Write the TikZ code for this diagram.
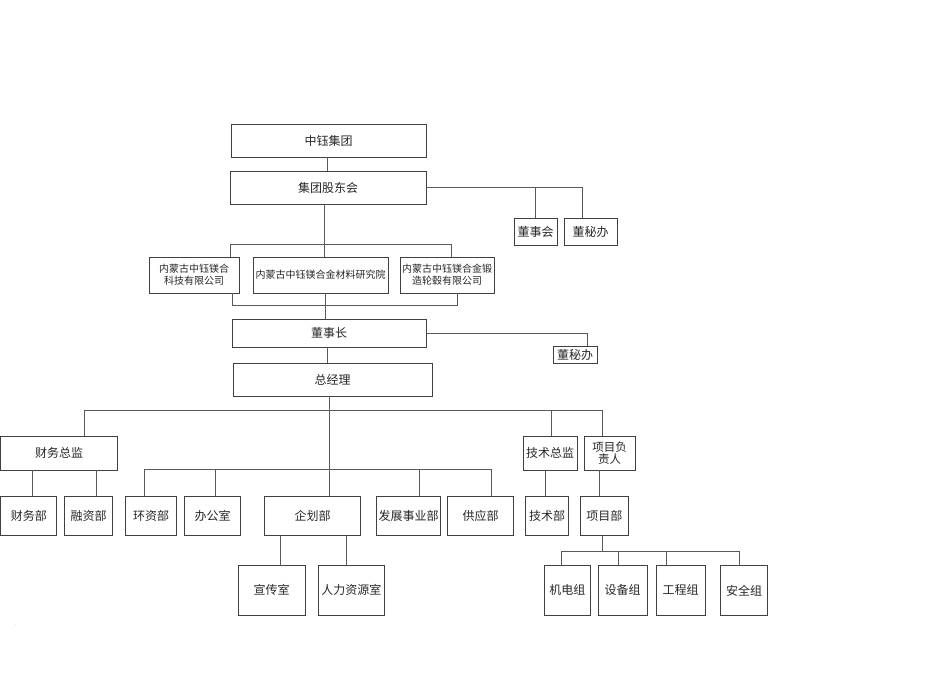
\documentclass[tikz,border=0pt]{standalone}
\usepackage{fontspec}
\setmainfont{Noto Sans CJK SC}
\begin{document}
\begin{tikzpicture}[x=1pt,y=-1pt,
  box/.style={draw=black!75,line width=0.8pt,inner sep=0pt,outer sep=0pt,align=center,font=\fontsize{12}{12}\selectfont,text=black!85},
  small/.style={font=\fontsize{10}{12}\selectfont},
  conn/.style={draw=black!65,line width=0.8pt}]
\useasboundingbox (0,0) rectangle (950,672);
% boxes
\node[box,minimum width=195,minimum height=33] (jt) at (328.5,140.5) {中钰集团};
\node[box,minimum width=196,minimum height=33] (gd) at (328,187.5) {集团股东会};
\node[box,minimum width=43,minimum height=27] (dsh) at (535.5,231.5) {董事会};
\node[box,minimum width=53,minimum height=27] (dmba) at (590.5,231.5) {董秘办};
\node[box,small,minimum width=90,minimum height=36] (kj) at (194,275) {内蒙古中钰镁合\\科技有限公司};
\node[box,small,minimum width=135,minimum height=36] (yjy) at (320.5,275) {内蒙古中钰镁合金材料研究院};
\node[box,small,minimum width=94,minimum height=36] (dz) at (447,275) {内蒙古中钰镁合金锻\\造轮毂有限公司};
\node[box,minimum width=194,minimum height=28] (dsz) at (329,333) {董事长};
\node[box,minimum width=44,minimum height=17] (dmbb) at (575,354.5) {董秘办};
\node[box,minimum width=199,minimum height=33] (zjl) at (332.5,379.5) {总经理};
\node[box,minimum width=116.5,minimum height=34] (cwzj) at (59,453) {财务总监};
\node[box,minimum width=54,minimum height=34] (jszj) at (550,453) {技术总监};
\node[box,minimum width=51,minimum height=34,font=\fontsize{11.5}{11.5}\selectfont] (xmfzr) at (609.5,453) {项目负\\责人};
% row 3
\node[box,minimum width=56,minimum height=39.5] (cwb) at (28.8,515.75) {财务部};
\node[box,minimum width=48.4,minimum height=39.5] (rzb) at (88.5,515.75) {融资部};
\node[box,minimum width=51.4,minimum height=39.5] (hzb) at (151,515.75) {环资部};
\node[box,minimum width=56.4,minimum height=39.5] (bgs) at (212.5,515.75) {办公室};
\node[box,minimum width=96.4,minimum height=39.5] (qhb) at (312.5,515.75) {企划部};
\node[box,minimum width=64.4,minimum height=39.5] (fzsyb) at (408.5,515.75) {发展事业部};
\node[box,minimum width=66.4,minimum height=39.5] (gyb) at (480.5,515.75) {供应部};
\node[box,minimum width=43.4,minimum height=39.5] (jsb) at (547,515.75) {技术部};
\node[box,minimum width=48.2,minimum height=39.5] (xmb) at (604.4,515.75) {项目部};
% row 4
\node[box,minimum width=67,minimum height=49.5] (xcs) at (271.5,590.35) {宣传室};
\node[box,minimum width=66.1,minimum height=49.5] (rlzys) at (351.35,590.35) {人力资源室};
\node[box,minimum width=46.3,minimum height=49.5] (jdz) at (567.25,590.35) {机电组};
\node[box,minimum width=48.8,minimum height=49.5] (sbz) at (622.7,590.35) {设备组};
\node[box,minimum width=48.4,minimum height=49.5] (gcz) at (680.7,590.35) {工程组};
\node[box,minimum width=46.7,minimum height=49.5] (aqz) at (744,590.35) {安全组};
\node[inner sep=0pt,font=\fontsize{4}{4}\selectfont,text=black!70] (dot) at (16,625) {.};
% connectors
\draw[conn] (jt.south -| 327.5,0) -- (gd.north -| 327.5,0);
\draw[conn] (gd.east) -| (dmba.north -| 582.3,0);
\draw[conn] (dsh.north) -- (dsh.north |- gd.east);
\coordinate (b1) at (0,244.3);
\draw[conn] (gd.south -| 324.7,0) -- (yjy.north -| 324.7,0);
\draw[conn] (kj.north -| 230.3,0) |- (b1 -| 451.3,0) -- (dz.north -| 451.3,0);
\coordinate (b2) at (0,305);
\draw[conn] (kj.south -| 232.3,0) |- (b2 -| 457.7,0) -- (dz.south -| 457.7,0);
\draw[conn] (yjy.south -| 325.3,0) -- (dsz.north -| 325.3,0);
\draw[conn] (dsz.east) -| (dmbb.north -| 587.7,0);
\draw[conn] (dsz.south -| 327,0) -- (zjl.north -| 327,0);
\coordinate (b3) at (0,410);
\coordinate (b4) at (0,469.7);
\draw[conn] (zjl.south -| 329,0) -- (b4 -| 329,0);
\draw[conn] (cwzj.north -| 84.3,0) |- (b3 -| 602.3,0) -- (xmfzr.north -| 602.3,0);
\draw[conn] (jszj.north -| 551.3,0) -- (b3 -| 551.3,0);
\draw[conn] (cwzj.south -| 32,0) -- (cwb.north -| 32,0);
\draw[conn] (cwzj.south -| 96.7,0) -- (rzb.north -| 96.7,0);
\draw[conn] (hzb.north -| 144.7,0) |- (b4 -| 491,0) -- (gyb.north -| 491,0);
\draw[conn] (bgs.north -| 215.3,0) -- (b4 -| 215.3,0);
\draw[conn] (qhb.north -| 329,0) -- (b4 -| 329,0);
\draw[conn] (fzsyb.north -| 419.3,0) -- (b4 -| 419.3,0);
\draw[conn] (jszj.south -| 545.3,0) -- (jsb.north -| 545.3,0);
\draw[conn] (xmfzr.south -| 599,0) -- (xmb.north -| 599,0);
\draw[conn] (qhb.south -| 280.7,0) -- (xcs.north -| 280.7,0);
\draw[conn] (qhb.south -| 346,0) -- (rlzys.north -| 346,0);
\coordinate (b5) at (0,551.2);
\draw[conn] (xmb.south -| 601.9,0) -- (b5 -| 601.9,0);
\draw[conn] (jdz.north -| 561,0) |- (b5 -| 739.4,0) -- (aqz.north -| 739.4,0);
\draw[conn] (sbz.north -| 618.4,0) -- (b5 -| 618.4,0);
\draw[conn] (gcz.north -| 666.5,0) -- (b5 -| 666.5,0);
\end{tikzpicture}
\end{document}
